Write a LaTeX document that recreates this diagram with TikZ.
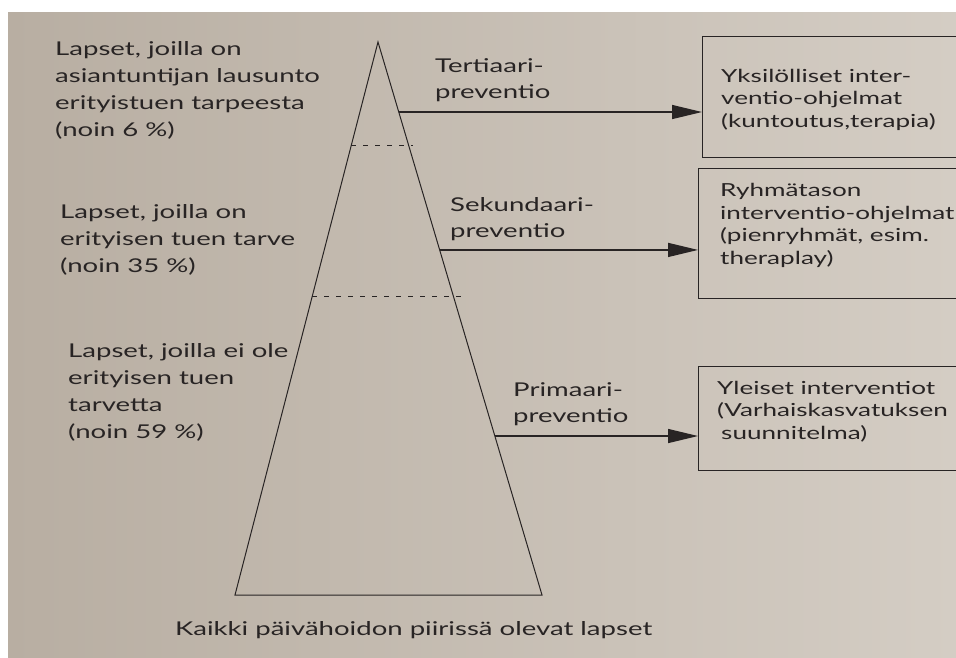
\documentclass[tikz,border=0pt]{standalone}
\usepackage{fontspec}
\setmainfont{Lato}[FakeStretch=1.45]
\usetikzlibrary{arrows.meta,calc}
\definecolor{paperL}{RGB}{184,174,162}
\definecolor{paperR}{RGB}{212,205,196}
\definecolor{ink}{RGB}{40,36,36}
\begin{document}
\begin{tikzpicture}[x=1pt,y=-1pt,
  lbl/.style={anchor=base west, align=left, inner sep=0pt, text=ink, font=\fontsize{19}{27}\selectfont},
  plbl/.style={anchor=base west, align=left, inner sep=0pt, text=ink, font=\fontsize{19}{26}\selectfont},
  boxtxt/.style={anchor=base west, align=left, inner sep=0pt, text=ink, font=\fontsize{18}{22.5}\selectfont},
  ibox/.style={draw=ink, line width=1.2pt, rectangle, anchor=north west, inner sep=0pt},
  edge/.style={draw=ink, line width=1pt},
  divider/.style={draw=ink, line width=1pt, dash pattern=on 5pt off 7pt},
  arr/.style={draw=ink, line width=1.4pt, -{Triangle[length=30pt,width=14pt]}}]
\useasboundingbox (0,0) rectangle (956,657);
\fill[white] (0,0) rectangle (956,657);
\shade[left color=paperL, right color=paperR] (8,12) rectangle (956,657);

% pyramid
\coordinate (apex) at (378,42);
\coordinate (bl) at (235,595);
\coordinate (br) at (542,595);
\draw[edge] (apex) -- (bl) -- (br) -- cycle;

% dividers
\coordinate (d1) at ($(apex)!0.188!(bl)$);
\coordinate (d2) at ($(apex)!0.4593!(bl)$);
\draw[divider] (d1) -- ++(62,0);
\draw[divider] (d2) -- ++(150,0);

% arrow starts on right side
\coordinate (t3) at ($(apex)!0.1266!(br)$);
\coordinate (t2) at ($(apex)!0.376!(br)$);
\coordinate (t1) at ($(apex)!0.7125!(br)$);

% boxes
\node[ibox, minimum width=262pt, minimum height=121pt] (b3) at (702,36) {};
\node[ibox, minimum width=266pt, minimum height=130pt] (b2) at (698,168) {};
\node[ibox, minimum width=266pt, minimum height=104pt] (b1) at (698,366) {};

% arrows
\draw[arr] (t3) -- (t3 -| b3.west);
\draw[arr] (t2) -- (t2 -| b2.west);
\draw[arr] (t1) -- (t1 -| b1.west);

% left labels (anchored at the baseline of the last line)
\node[lbl] (l1) at (55,136) {Lapset, joilla on\\asiantuntijan lausunto\\erityistuen tarpeesta\\(noin 6~\%)};
\node[lbl] (l2) at (60,272) {Lapset, joilla on\\erityisen tuen tarve\\(noin 35~\%)};
\node[lbl] (l3) at (68,438) {Lapset, joilla ei ole\\erityisen tuen\\tarvetta\\(noin 59~\%)};

% prevention labels
\node[plbl] (p3) at (435,98) {Tertiaari-\\preventio};
\node[plbl] (p2) at (450,237) {Sekundaari-\\preventio};
\node[plbl] (p1) at (513,422) {Primaari-\\preventio};

% box texts
\node[boxtxt] (x3) at (721,127) {Yksilölliset inter-\\ventio-ohjelmat\\(kuntoutus,terapia)};
\node[boxtxt] (x2) at (720,264) {Ryhmätason\\interventio-ohjelmat\\(pienryhmät, esim.\\theraplay)};
\node[boxtxt] (x1) at (717,439) {Yleiset interventiot\\(Varhaiskasvatuksen\\\hspace{4pt}suunnitelma)};

% bottom caption
\node[lbl] (cap) at (175,635) {Kaikki päivähoidon piirissä olevat lapset};
\end{tikzpicture}
\end{document}
